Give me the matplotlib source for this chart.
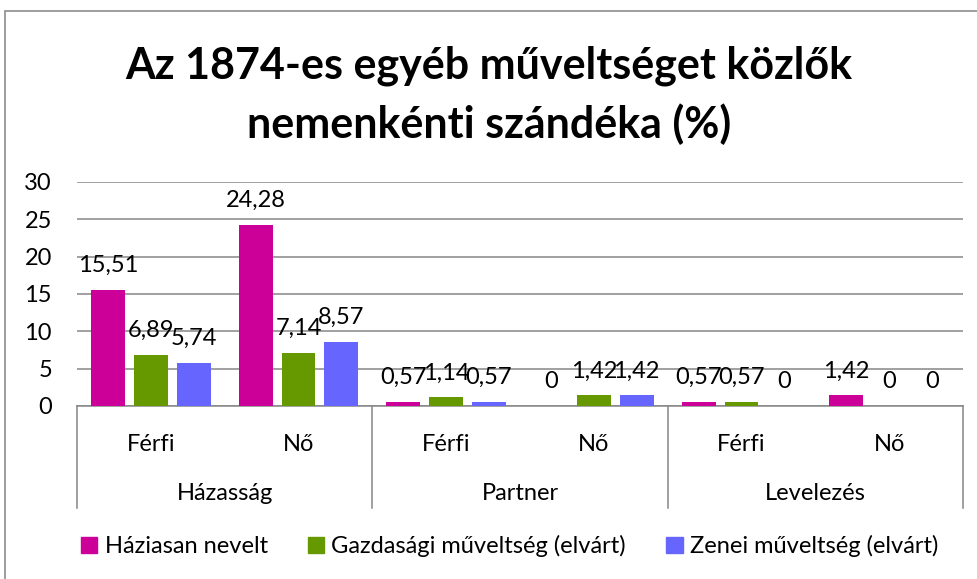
import numpy as np
import matplotlib
matplotlib.use('Agg')
import matplotlib.pyplot as plt
import matplotlib.patches as mp
import matplotlib.transforms as mtransforms

plt.rcParams['font.family'] = ['Lato', 'DejaVu Sans']

# ─── adatok ─────────────────────────────────────────────
groups = ['Házasság', 'Partner', 'Levelezés']
sexes = ['Férfi', 'Nő']
series_names = ['Háziasan nevelt', 'Gazdasági műveltség (elvárt)', 'Zenei műveltség (elvárt)']
haziasan = [15.51, 24.28, 0.57, 0, 0.57, 1.42]
gazdasagi = [6.89, 7.14, 1.14, 1.42, 0.57, 0]
zenei = [5.74, 8.57, 0.57, 1.42, 0, 0]
colors = ['#CC0099', '#669900', '#6666FF']
yticks = [0, 5, 10, 15, 20, 25, 30]

W, H = 978, 579
FS = 17
fig = plt.figure(figsize=(W / 100, H / 100), dpi=100)

# diagram kerete
fig.add_artist(mp.Rectangle((5 / W, -0.1), 1.2, 1.1 - 11 / H, transform=fig.transFigure,
                            fill=False, edgecolor='#8C8C8C', linewidth=1.2))

# rajzterület (pixelben kimérve)
x0, x1, ytop, ybot = 77, 963, 182, 406
ax = fig.add_axes([x0 / W, 1 - ybot / H, (x1 - x0) / W, (ybot - ytop) / H])

n_cat = len(haziasan)
x = np.arange(n_cat)
bar_w = 0.23
step = 0.29
for i, (vals, c) in enumerate(zip([haziasan, gazdasagi, zenei], colors)):
    pos = x + (i - 1) * step
    ax.bar(pos, vals, width=bar_w, color=c, zorder=3)
    for px, v in zip(pos, vals):
        ax.annotate(f'{v:g}'.replace('.', ','), (px, v), xytext=(0, 18),
                    textcoords='offset pixels', ha='center', va='baseline',
                    fontsize=FS, color='black', zorder=4, annotation_clip=False)

ax.set_xlim(-0.5, n_cat - 0.5)
ax.set_ylim(0, 30)
ax.set_yticks(yticks)
ax.set_yticklabels([str(t) for t in yticks], fontsize=FS)
ax.tick_params(axis='y', length=0, pad=18)
ax.tick_params(axis='x', length=0, labelbottom=False)
ax.grid(axis='y', color='#868686', linewidth=1.1, zorder=1)
for s in ['left', 'right', 'top']:
    ax.spines[s].set_visible(False)
ax.spines['bottom'].set_color('#868686')
ax.spines['bottom'].set_linewidth(1.1)

# kétszintű kategóriatengely
trans = mtransforms.blended_transform_factory(ax.transData, ax.transAxes)
for k in range(n_cat):
    ax.text(k, -0.17, sexes[k % 2], transform=trans, ha='center', va='center', fontsize=FS)
for g, name in enumerate(groups):
    ax.text(2 * g + 0.5, -0.39, name, transform=trans, ha='center', va='center', fontsize=FS)
for b in [-0.5, 1.5, 3.5, 5.5]:
    ax.plot([b, b], [0, -0.455], transform=trans, color='#868686', linewidth=1.1, clip_on=False)

fig.text(0.5, 1 - 66 / H, 'Az 1874-es egyéb műveltséget közlők', ha='center', va='center',
         fontsize=31, fontweight='bold')
fig.text(0.5, 1 - 124 / H, 'nemenkénti szándéka (%)', ha='center', va='center',
         fontsize=31, fontweight='bold')

handles = [mp.Patch(color=c) for c in colors]
fig.legend(handles, series_names, loc='center', bbox_to_anchor=(0.521, 1 - 546 / H), ncol=3,
           frameon=False, fontsize=FS, handlelength=0.7, handleheight=0.7,
           handletextpad=0.3, columnspacing=1.7)

fig.savefig('out.png', dpi=100)
